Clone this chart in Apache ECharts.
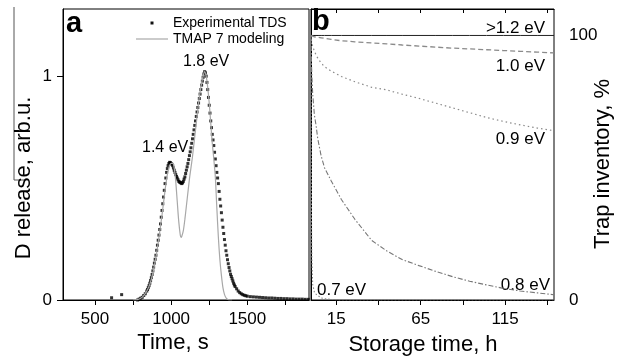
<!DOCTYPE html>
<html>
<head>
<meta charset="utf-8">
<script src="https://cdn.jsdelivr.net/npm/echarts@6/dist/echarts.min.js"></script>
<style>
  html, body { margin: 0; padding: 0; background: #fff; }
  #chart { width: 626px; height: 356px; }
</style>
</head>
<body>
<div id="chart"></div>
<script>
// panel a: TDS spectrum
var tdsTime = [609, 675, 780, 790, 800, 810, 820, 830,
  840, 845, 850, 855, 860, 865, 870, 875, 880, 885, 890, 895, 900, 905, 910, 915, 920, 925, 930, 935, 940, 945,
  950, 955, 960, 965, 970, 975, 980, 985, 990, 995, 1000, 1005, 1010, 1015, 1020, 1025, 1030, 1035, 1040, 1045,
  1050, 1055, 1060, 1065, 1070, 1075, 1080, 1085, 1090, 1095, 1100, 1105, 1110, 1115, 1120, 1125, 1130, 1135, 1140, 1145,
  1150, 1155, 1160, 1165, 1170, 1175, 1180, 1185, 1190, 1195, 1200, 1205, 1210, 1215, 1220, 1225, 1230, 1235, 1240, 1245,
  1250, 1255, 1260, 1265, 1270, 1275, 1280, 1285, 1290, 1295, 1300, 1305, 1310, 1315, 1320, 1325, 1330, 1335, 1340, 1345,
  1350, 1355, 1360, 1365, 1370, 1375, 1380, 1385, 1390, 1395, 1400, 1405, 1410, 1415, 1420,
  1430, 1440, 1450, 1460, 1470, 1480, 1490, 1500, 1520, 1540, 1560, 1580, 1600,
  1620, 1640, 1660, 1680, 1700, 1720, 1740, 1760, 1780, 1800, 1820, 1840, 1860, 1880, 1900];
var tdsRelease = [0.01, 0.024, 0.0, 0.004, 0.008, 0.012, 0.02, 0.028,
  0.040, 0.047, 0.055, 0.064, 0.075, 0.087, 0.100, 0.114, 0.130, 0.147, 0.165, 0.182, 0.200, 0.222, 0.245, 0.267, 0.290, 0.315, 0.340, 0.370, 0.400, 0.430,
  0.460, 0.490, 0.520, 0.545, 0.570, 0.587, 0.600, 0.610, 0.615, 0.614, 0.610, 0.606, 0.600, 0.590, 0.580, 0.570, 0.560, 0.552, 0.545, 0.537,
  0.530, 0.527, 0.525, 0.522, 0.520, 0.524, 0.530, 0.540, 0.550, 0.565, 0.580, 0.595, 0.610, 0.627, 0.645, 0.662, 0.680, 0.700, 0.720, 0.740,
  0.760, 0.780, 0.800, 0.820, 0.840, 0.860, 0.880, 0.900, 0.920, 0.940, 0.960, 0.978, 0.995, 1.010, 1.020, 1.015, 1.000, 0.972, 0.940, 0.905,
  0.870, 0.835, 0.800, 0.770, 0.740, 0.715, 0.690, 0.660, 0.630, 0.600, 0.570, 0.545, 0.520, 0.485, 0.450, 0.420, 0.390, 0.357, 0.325, 0.297,
  0.270, 0.245, 0.220, 0.200, 0.180, 0.162, 0.145, 0.130, 0.115, 0.105, 0.095, 0.085, 0.075, 0.067, 0.060,
  0.05, 0.04, 0.033, 0.028, 0.024, 0.021, 0.019, 0.017, 0.015, 0.014, 0.013, 0.012, 0.011,
  0.01, 0.009, 0.009, 0.008, 0.007, 0.007, 0.006, 0.006, 0.005, 0.005, 0.004, 0.004, 0.004, 0.003, 0.003];

var tmapTime = [750, 780, 800, 820, 840, 860, 880, 900, 920, 940, 960, 975, 990, 1000, 1010, 1020, 1030, 1040, 1050, 1060,
  1065, 1070, 1080, 1090, 1100, 1110, 1120, 1130, 1140, 1150, 1160, 1170, 1180, 1190, 1200, 1210, 1220, 1230, 1240, 1250,
  1260, 1270, 1280, 1290, 1300, 1310, 1320, 1330, 1340, 1350, 1360, 1370, 1380, 1400];
var tmapRelease = [0, 0.002, 0.008, 0.02, 0.04, 0.07, 0.12, 0.19, 0.28, 0.38, 0.49, 0.56, 0.6, 0.61, 0.61, 0.59, 0.53, 0.44, 0.35, 0.29,
  0.28, 0.285, 0.31, 0.36, 0.42, 0.48, 0.54, 0.59, 0.64, 0.7, 0.76, 0.82, 0.88, 0.93, 0.97, 1.0, 1.02, 1.0, 0.95, 0.88,
  0.79, 0.7, 0.63, 0.55, 0.41, 0.28, 0.18, 0.11, 0.055, 0.025, 0.01, 0.003, 0, 0];

// panel b: trap inventory vs storage time
var storageHours = [0, 0.1, 0.3, 0.5, 1, 2, 3, 4, 6, 8, 12, 18, 26, 36, 45, 54, 64, 74, 84, 94, 104, 114, 124, 134, 144];
var inv12 = [100, 100, 100, 100, 100, 100, 100, 100, 100, 100, 100, 100, 100, 100, 100, 100, 100, 100, 100, 100, 100, 100, 100, 100, 100];
var inv10 = [100, 100, 99.9, 99.8, 99.7, 99.5, 99.4, 99.3, 99.1, 98.9, 98.5, 98.0, 97.6, 97.2, 96.8, 96.4, 96.0, 95.6, 95.2, 94.9, 94.6, 94.3, 94.0, 93.7, 93.4];
var inv09 = [100, 99, 98, 97, 96, 94, 92.7, 91.4, 89.6, 88.2, 86.5, 84.5, 82.5, 80.4, 79.4, 77.8, 76.2, 74.4, 72.6, 70.8, 69, 67.5, 66.2, 65, 64];
var inv08 = [100, 95, 89, 85, 78, 70, 66, 61, 54.5, 50, 45, 38, 30.5, 22.5, 18.5, 15.3, 13, 10.8, 8.8, 7.1, 5.7, 4.4, 3.4, 2.7, 2.0];
var inv07 = [100, 60, 30, 16, 6, 3, 2.2, 1.5, 0.8, 0.5, 0.2, 0, 0, 0, 0, 0, 0, 0, 0, 0, 0, 0, 0, 0, 0];

var timeTicks = [500, 750, 1000, 1250, 1500, 1750];
var timeLabels = [500, 1000, 1500];
var hourTicks = [15, 40, 65, 90, 115, 140];
var hourLabels = [15, 65, 115];
var releaseTicks = [0, 1];
var inventoryTicks = [0, 100];

var FONT = 'Liberation Sans, Arial, sans-serif';

function pairs(xs, ys) {
	return xs.map(function (x, i) { return [x, ys[i]]; });
}
function plain(v) {
	return String(v);
}

var myChart = echarts.init(document.getElementById('chart'));

var axisLine = {show: true, lineStyle: {color: '#000', width: 1}};
var labelStyle = {color: '#000', fontSize: 17, fontFamily: FONT, formatter: plain};

function ticks(values, length, inside) {
	return {show: true, inside: !!inside, length: length, customValues: values, lineStyle: {color: '#000', width: 1}};
}

function txt(x, y, s, size, extra) {
	var style = {text: s, font: size + 'px ' + FONT, fill: '#000', verticalAlign: 'middle'};
	var el = {type: 'text', x: x, y: y, style: style};
	if (extra) {
		if (extra.align) style.align = extra.align;
		if (extra.rotation) el.rotation = extra.rotation;
	}
	return el;
}

var option = {
	animation: false,
	backgroundColor: '#fff',
	grid: [
		{left: 63, top: 9, width: 246, height: 291, show: true, borderColor: '#000', borderWidth: 1},
		{left: 311, top: 9, width: 243, height: 291, show: true, borderColor: '#000', borderWidth: 1}
	],
	xAxis: [
		{
			gridIndex: 0, type: 'value', min: 290, max: 1905,
			axisLine: axisLine, splitLine: {show: false}, axisTick: ticks(timeTicks, 5),
			axisLabel: Object.assign({customValues: timeLabels, margin: 11}, labelStyle)
		},
		{
			gridIndex: 1, type: 'value', min: 0, max: 144,
			axisLine: axisLine, splitLine: {show: false}, axisTick: ticks(hourTicks, 5),
			axisLabel: Object.assign({customValues: hourLabels, margin: 11}, labelStyle)
		},
		{
			gridIndex: 1, type: 'value', min: 0, max: 144, position: 'top',
			axisLine: axisLine, splitLine: {show: false}, axisTick: ticks(hourTicks, 4, true),
			axisLabel: {show: false}
		}
	],
	yAxis: [
		{
			gridIndex: 0, type: 'value', min: 0, max: 1.3,
			axisLine: axisLine, splitLine: {show: false}, axisTick: ticks(releaseTicks, 6),
			axisLabel: Object.assign({customValues: releaseTicks, margin: 11}, labelStyle)
		},
		{
			gridIndex: 1, type: 'value', min: 0, max: 110, position: 'right',
			axisLine: axisLine, splitLine: {show: false}, axisTick: ticks(inventoryTicks, 7),
			axisLabel: Object.assign({customValues: inventoryTicks, margin: 15}, labelStyle)
		}
	],
	series: [
		{
			name: 'TMAP 7 modeling', type: 'line', xAxisIndex: 0, yAxisIndex: 0,
			data: pairs(tmapTime, tmapRelease), showSymbol: false, smooth: 0.3,
			lineStyle: {color: '#a8a8a8', width: 1.2}
		},
		{
			name: 'Experimental TDS', type: 'scatter', xAxisIndex: 0, yAxisIndex: 0,
			data: pairs(tdsTime, tdsRelease), symbol: 'rect', symbolSize: 3,
			itemStyle: {color: '#000'}
		},
		{
			name: '>1.2 eV', type: 'line', xAxisIndex: 1, yAxisIndex: 1,
			data: pairs(storageHours, inv12), showSymbol: false,
			lineStyle: {color: '#222', width: 1}
		},
		{
			name: '1.0 eV', type: 'line', xAxisIndex: 1, yAxisIndex: 1,
			data: pairs(storageHours, inv10), showSymbol: false,
			lineStyle: {color: '#8a8a8a', width: 1.3, type: [5, 3]}
		},
		{
			name: '0.9 eV', type: 'line', xAxisIndex: 1, yAxisIndex: 1,
			data: pairs(storageHours, inv09), showSymbol: false,
			lineStyle: {color: '#8a8a8a', width: 1.2, type: [1.5, 3]}
		},
		{
			name: '0.8 eV', type: 'line', xAxisIndex: 1, yAxisIndex: 1,
			data: pairs(storageHours, inv08), showSymbol: false,
			lineStyle: {color: '#777', width: 1.1, type: [5, 2, 1.5, 2]}
		},
		{
			name: '0.7 eV', type: 'line', xAxisIndex: 1, yAxisIndex: 1,
			data: pairs(storageHours, inv07), showSymbol: false,
			lineStyle: {color: '#888', width: 1.1, type: [1.5, 2]}
		}
	],
	graphic: [
		// stray edge line on the left of the original figure
		{type: 'line', shape: {x1: 14, y1: 7, x2: 14, y2: 180}, style: {stroke: '#555', lineWidth: 1}},
		{type: 'line', shape: {x1: 14, y1: 180, x2: 25, y2: 180}, style: {stroke: '#555', lineWidth: 1}},
		// panel letters
		{type: 'text', left: 66, top: 9, style: {text: 'a', font: 'bold 29px ' + FONT, fill: '#000'}},
		{type: 'text', left: 312, top: 7, style: {text: 'b', font: 'bold 29px ' + FONT, fill: '#000'}},
		// legend
		{type: 'rect', shape: {x: 150.5, y: 21.5, width: 3, height: 3}, style: {fill: '#111'}},
		txt(173, 23, 'Experimental TDS', 14),
		{type: 'line', shape: {x1: 136, y1: 39, x2: 168, y2: 39}, style: {stroke: '#a8a8a8', lineWidth: 1.2}},
		txt(173, 39, 'TMAP 7 modeling', 14),
		// peak labels
		txt(183, 62, '1.8 eV', 16),
		txt(142, 148, '1.4 eV', 16),
		// trap energy labels
		txt(545, 28, '>1.2 eV', 17, {align: 'right'}),
		txt(545, 66, '1.0 eV', 17, {align: 'right'}),
		txt(545, 139, '0.9 eV', 17, {align: 'right'}),
		txt(550, 285, '0.8 eV', 17, {align: 'right'}),
		txt(317, 290, '0.7 eV', 17),
		// axis names
		txt(173, 343, 'Time, s', 22, {align: 'center'}),
		txt(423, 345, 'Storage time, h', 22, {align: 'center'}),
		txt(24, 178, 'D release, arb.u.', 22, {align: 'center', rotation: Math.PI / 2}),
		txt(603, 164, 'Trap inventory, %', 22, {align: 'center', rotation: Math.PI / 2})
	]
};
myChart.setOption(option);
</script>
</body>
</html>
